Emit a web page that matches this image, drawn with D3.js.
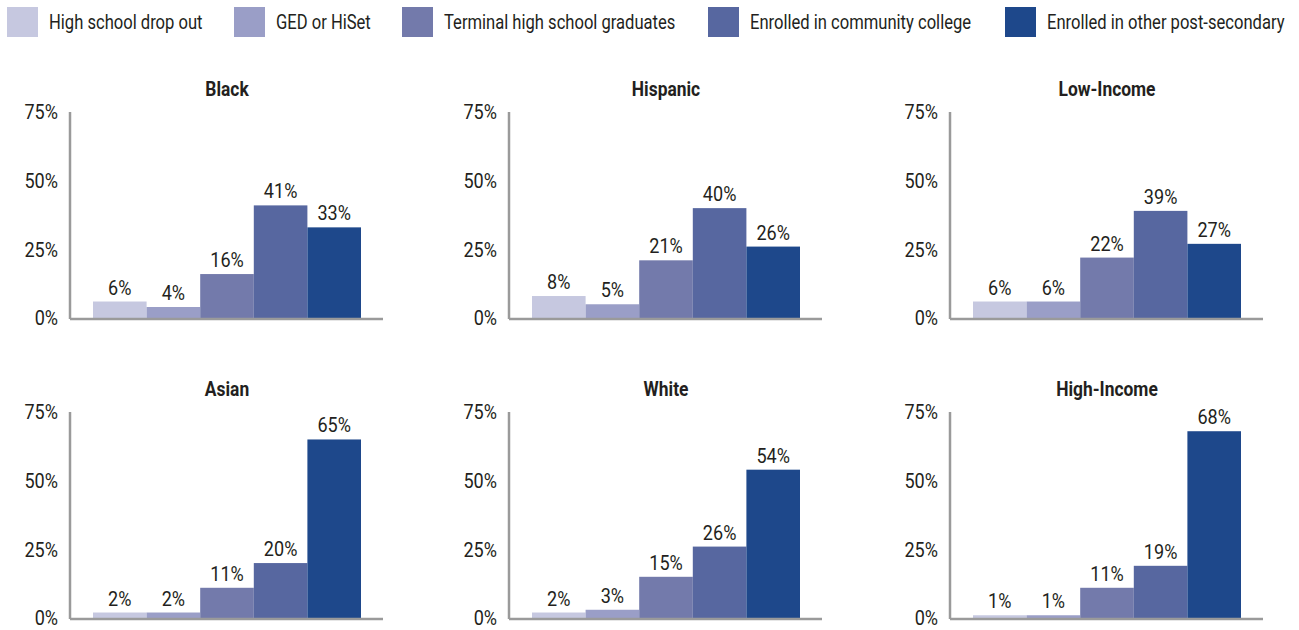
<!DOCTYPE html>
<html>
<head>
<meta charset="utf-8">
<script src="https://cdn.jsdelivr.net/npm/d3@7"></script>
<style>
  body { margin: 0; background: #fff; }
  svg text { font-family: Roboto, "Liberation Sans", sans-serif; fill: #231f20; }
</style>
</head>
<body>
<div id="chart"></div>
<script>
// legend categories, in bar order
const categories = [
    "High school drop out",
    "GED or HiSet",
    "Terminal high school graduates",
    "Enrolled in community college",
    "Enrolled in other post-secondary"
];
const colors = ["#c6c8e0", "#9a9ec7", "#737aab", "#5767a0", "#1e488b"];

// panel titles and values (percent)
const groups = ["Black", "Hispanic", "Low-Income", "Asian", "White", "High-Income"];
const black = [6, 4, 16, 41, 33];
const hispanic = [8, 5, 21, 40, 26];
const lowIncome = [6, 6, 22, 39, 27];
const asian = [2, 2, 11, 20, 65];
const white = [2, 3, 15, 26, 54];
const highIncome = [1, 1, 11, 19, 68];
const groupValues = [black, hispanic, lowIncome, asian, white, highIncome];

const yTicks = [0, 25, 50, 75];

const width = 1299, height = 630;

const svg = d3.select("#chart")
    .append("svg")
    .attr("width", width)
    .attr("height", height);

// the original font is a condensed gothic, so squeeze text horizontally
const at = (x, y, s) => `translate(${x},${y}) scale(${s},1)`;

// legend
const legendX = [7, 234, 402, 708, 1005];
const legend = svg.append("g");
categories.forEach((cat, i) => {
    const g = legend.append("g").attr("transform", `translate(${legendX[i]},7)`);
    g.append("rect")
        .attr("width", 31)
        .attr("height", 30)
        .attr("fill", colors[i]);
    g.append("text")
        .attr("transform", at(42, 15, 0.79))
        .attr("dy", "0.35em")
        .style("font-size", "21px")
        .text(cat);
});

// panel layout
const colX = [70, 509, 950];
const rowTop = [112, 412];
const plotH = 206, axisW = 313;

const x = d3.scaleBand()
    .domain(categories)
    .range([23, 291])
    .padding(0);

const y = d3.scaleLinear()
    .domain([0, 75])
    .range([plotH, 0]);

groups.forEach((name, gi) => {
    const values = groupValues[gi];
    const panel = svg.append("g")
        .attr("transform", `translate(${colX[gi % 3]},${rowTop[Math.floor(gi / 3)]})`);

    // title
    panel.append("text")
        .attr("transform", at((x.range()[0] + x.range()[1]) / 2, -16, 0.87))
        .attr("text-anchor", "middle")
        .style("font-size", "20px")
        .style("font-weight", "bold")
        .text(name);

    // y tick labels
    panel.selectAll(".tick-label")
        .data(yTicks)
        .join("text")
        .attr("class", "tick-label")
        .attr("transform", d => at(-12, y(d), 0.86))
        .attr("dy", "0.35em")
        .attr("text-anchor", "end")
        .style("font-size", "21px")
        .text(d => d + "%");

    // bars
    panel.selectAll("rect")
        .data(values)
        .join("rect")
        .attr("x", (d, i) => x(categories[i]))
        .attr("y", d => y(d))
        .attr("width", x.bandwidth())
        .attr("height", d => y(0) - y(d))
        .attr("fill", (d, i) => colors[i]);

    // value labels
    panel.selectAll(".value-label")
        .data(values)
        .join("text")
        .attr("class", "value-label")
        .attr("transform", (d, i) => at(x(categories[i]) + x.bandwidth() / 2, y(d) - 7, 0.86))
        .attr("text-anchor", "middle")
        .style("font-size", "21px")
        .text(d => d + "%");

    // axis lines
    panel.append("line")
        .attr("x1", 0).attr("x2", 0)
        .attr("y1", 0).attr("y2", plotH + 1)
        .attr("stroke", "#9a9a9a")
        .attr("stroke-width", 2.5);
    panel.append("line")
        .attr("x1", 0).attr("x2", axisW)
        .attr("y1", plotH + 1).attr("y2", plotH + 1)
        .attr("stroke", "#9a9a9a")
        .attr("stroke-width", 2.5);
});
</script>
</body>
</html>
